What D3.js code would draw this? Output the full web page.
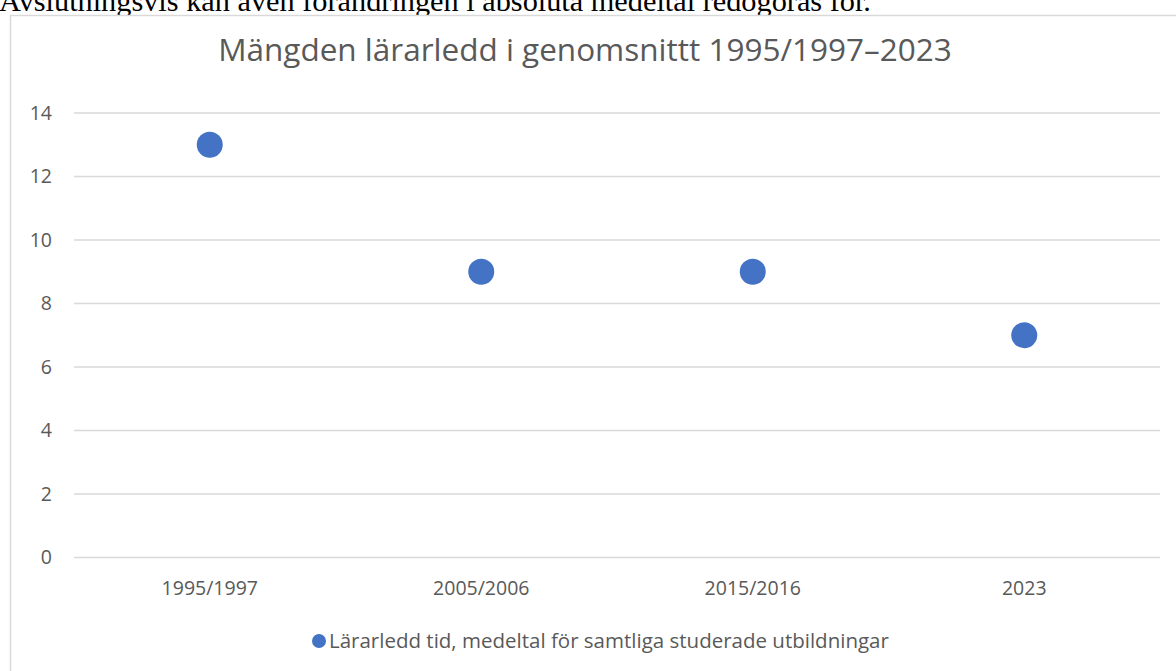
<!DOCTYPE html>
<html>
<head>
<meta charset="utf-8">
<script src="https://cdn.jsdelivr.net/npm/d3@7"></script>
<style>
  body { margin: 0; background: #fff; overflow: hidden; }
  svg { display: block; }
</style>
</head>
<body>
<svg id="chart" width="1176" height="671"></svg>
<script>
// data
var periods = ['1995/1997', '2005/2006', '2015/2016', '2023'];
var values = [13, 9, 9, 7];
var yTicks = [0, 2, 4, 6, 8, 10, 12, 14];
var seriesName = 'Lärarledd tid, medeltal för samtliga studerade utbildningar';
var chartTitle = 'Mängden lärarledd i genomsnittt 1995/1997–2023';
var introText = 'Avslutningsvis kan även förändringen i absoluta medeltal redogöras för.';

var svg = d3.select('#chart');
var font = '"Open Sans", sans-serif';
var dotColor = '#4472c4';

// text from the page above the chart (cut off at the top, like the page)
svg.append('text')
  .attr('x', -1).attr('y', 11)
  .style('font-family', '"Liberation Serif", "Times New Roman", serif')
  .style('font-size', '30.3px')
  .style('fill', '#000')
  .text(introText);

// chart frame
svg.append('rect')
  .attr('x', 10.5).attr('y', 15.5)
  .attr('width', 1200).attr('height', 700)
  .style('fill', '#fff')
  .style('stroke', '#d9d9d9')
  .style('stroke-width', 1.5);

var x = d3.scaleBand().domain(periods).range([74, 1160]);
var y = d3.scaleLinear().domain([0, 14]).range([557.5, 113]);

// gridlines
svg.append('g').selectAll('line').data(yTicks).enter()
  .append('line')
  .attr('x1', 74).attr('x2', 1160)
  .attr('y1', function(d) { return y(d); })
  .attr('y2', function(d) { return y(d); })
  .style('stroke', '#d9d9d9')
  .style('stroke-width', 1.5);

// y axis labels
var yAxis = svg.append('g').attr('transform', 'translate(62,0)')
  .call(d3.axisLeft(y).tickValues(yTicks).tickSize(0).tickPadding(10));
yAxis.select('.domain').remove();
yAxis.selectAll('text')
  .style('font-family', font).style('font-size', '19.5px').style('fill', '#595959');

// x axis labels
var xAxis = svg.append('g').attr('transform', 'translate(0,572)')
  .call(d3.axisBottom(x).tickSize(0).tickPadding(9));
xAxis.select('.domain').remove();
xAxis.selectAll('text')
  .style('font-family', font).style('font-size', '19.5px').style('fill', '#595959');

// points
svg.append('g').selectAll('circle').data(values).enter()
  .append('circle')
  .attr('cx', function(d, i) { return x(periods[i]) + x.bandwidth() / 2; })
  .attr('cy', function(d) { return y(d); })
  .attr('r', 13)
  .style('fill', dotColor);

// title
svg.append('text')
  .attr('x', 585).attr('y', 61)
  .attr('text-anchor', 'middle')
  .style('font-family', font).style('font-size', '31.5px').style('fill', '#595959')
  .text(chartTitle);

// legend
var legend = svg.append('g').attr('transform', 'translate(319,641)');
legend.append('circle').attr('r', 7).style('fill', dotColor);
legend.append('text')
  .attr('x', 10).attr('y', 7)
  .style('font-family', font).style('font-size', '20.5px').style('fill', '#595959')
  .text(seriesName);
</script>
</body>
</html>
